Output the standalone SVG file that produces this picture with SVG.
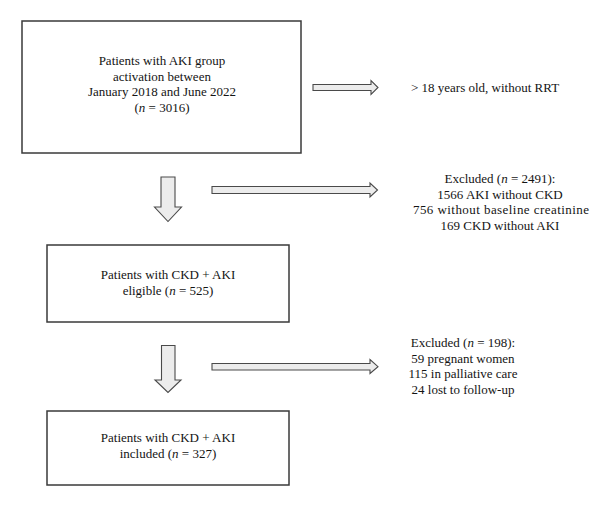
<svg xmlns="http://www.w3.org/2000/svg" width="600" height="507" viewBox="0 0 600 507">
  <style>
    .box { fill: #ffffff; stroke: #3a3a3a; stroke-width: 1.5; }
    .arrow { fill: #ececec; stroke: #4a4a4a; stroke-width: 1.1; stroke-linejoin: miter; }
    text { font-family: "Liberation Serif", "Times New Roman", serif; font-size: 13px; fill: #141414; }
    .c { text-anchor: middle; }
  </style>
  <rect width="600" height="507" fill="#ffffff"/>

  <g id="node-activation">
    <rect class="box" x="22" y="21" width="279" height="132"/>
    <text class="c" x="162" y="65">Patients with AKI group</text>
    <text class="c" x="162" y="80.5">activation between</text>
    <text class="c" x="162" y="96">January 2018 and June 2022</text>
    <text class="c" x="162" y="111.5">(<tspan font-style="italic">n</tspan> = 3016)</text>
  </g>

  <g id="node-criteria">
    <text x="411" y="92">&gt; 18 years old, without RRT</text>
  </g>

  <g id="node-excluded-1">
    <text class="c" x="500" y="183">Excluded (<tspan font-style="italic">n</tspan> = 2491):</text>
    <text class="c" x="500" y="198.5">1566 AKI without CKD</text>
    <text class="c" x="501" y="214" textLength="176" lengthAdjust="spacing">756 without baseline creatinine</text>
    <text class="c" x="500" y="229.5">169 CKD without AKI</text>
  </g>

  <g id="node-eligible">
    <rect class="box" x="47" y="245" width="242" height="77"/>
    <text class="c" x="168" y="278.5">Patients with CKD + AKI</text>
    <text class="c" x="168" y="295">eligible (<tspan font-style="italic">n</tspan> = 525)</text>
  </g>

  <g id="node-excluded-2">
    <text class="c" x="463" y="347">Excluded (<tspan font-style="italic">n</tspan> = 198):</text>
    <text class="c" x="463" y="362.5">59 pregnant women</text>
    <text class="c" x="463" y="378">115 in palliative care</text>
    <text class="c" x="463" y="393.5">24 lost to follow-up</text>
  </g>

  <g id="node-included">
    <rect class="box" x="47" y="411" width="242" height="74"/>
    <text class="c" x="168" y="442">Patients with CKD + AKI</text>
    <text class="c" x="168" y="457.5">included (<tspan font-style="italic">n</tspan> = 327)</text>
  </g>

  <g id="connectors">
    <!-- block arrow: activation to criteria -->
    <polygon class="arrow" points="313,84.5 371,84.5 371,80.5 378,87.5 371,94.5 371,90.5 313,90.5"/>
    <!-- block arrow: activation down to eligible -->
    <polygon class="arrow" points="161,177 175,177 175,207 181.5,207 168,221.5 154.5,207 161,207"/>
    <!-- block arrow: to first exclusion -->
    <polygon class="arrow" points="212,186.5 370,186.5 370,183 377.5,190 370,197 370,193.5 212,193.5"/>
    <!-- block arrow: eligible down to included -->
    <polygon class="arrow" points="161.5,345.5 175,345.5 175,380 181,380 168,392.5 155,380 161.5,380"/>
    <!-- block arrow: to second exclusion -->
    <polygon class="arrow" points="212,363.5 370,363.5 370,359.5 378,366.7 370,373.5 370,370 212,370"/>
  </g>
</svg>
